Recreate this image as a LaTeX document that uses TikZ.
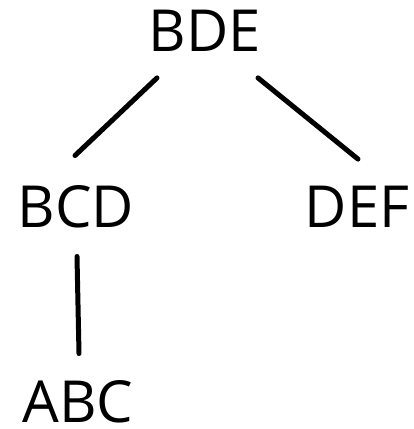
\documentclass[tikz,border=0pt]{standalone}
\usepackage{fontspec}
\setmainfont{Open Sans}
\begin{document}
\begin{tikzpicture}[x=1pt,y=-1pt,
  label/.style={inner sep=0pt, font=\fontsize{58}{58}\selectfont},
  edge/.style={line width=5pt, line cap=round}]
\useasboundingbox (0,0) rectangle (413,429);
\node[label] (bde) at (205,31) {BDE};
\node[label] (bcd) at (76,207) {BCD};
\node[label] (def) at (357,207) {DEF};
\node[label] (abc) at (78,402) {ABC};
\draw[edge] ([shift={(-48,26)}]bde.south) -- ([shift={(-1,-30)}]bcd.north);
\draw[edge] ([shift={(53,26)}]bde.south) -- ([shift={(1,-27)}]def.north);
\draw[edge] ([shift={(1,28)}]bcd.south) -- ([shift={(1,-27)}]abc.north);
\end{tikzpicture}
\end{document}
